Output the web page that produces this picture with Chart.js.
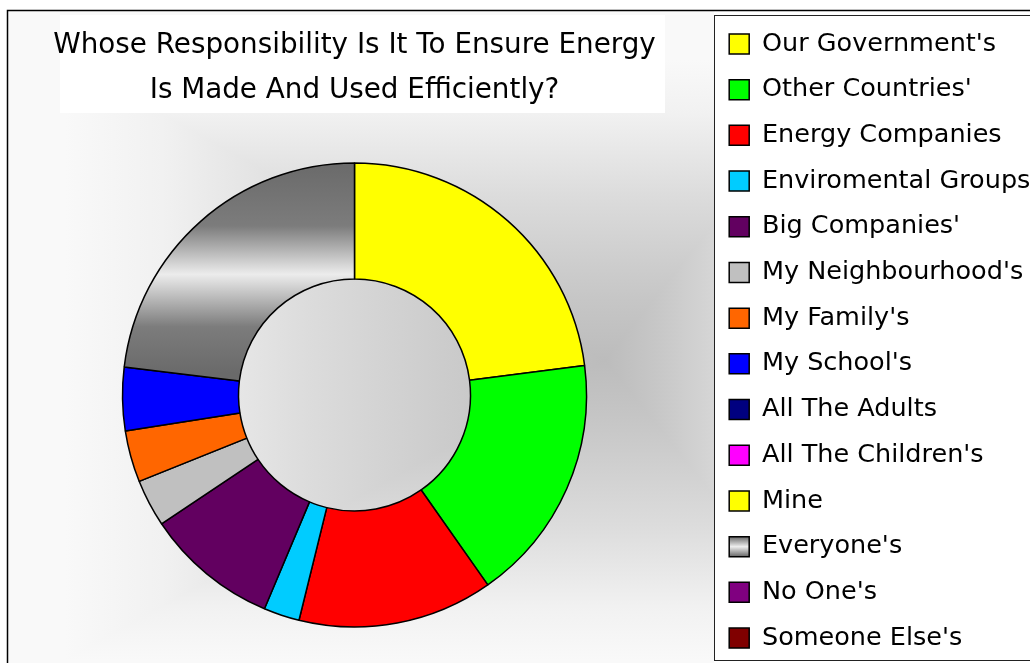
<!DOCTYPE html>
<html>
<head>
<meta charset="utf-8">
<title>Whose Responsibility</title>
<script src="https://cdn.jsdelivr.net/npm/chart.js@4.4.1/dist/chart.umd.min.js"></script>
<style>
  html, body { margin: 0; padding: 0; background: #fff; }
  #chartBox { width: 1030px; height: 663px; }
</style>
</head>
<body>
<div id="chartBox"><canvas id="responsibilityChart" width="1030" height="663"></canvas></div>
<script>
// chart data
const categories = [
  "Our Government's", "Other Countries'", "Energy Companies", "Enviromental Groups'",
  "Big Companies'", "My Neighbourhood's", "My Family's", "My School's",
  "All The Adults", "All The Children's", "Mine", "Everyone's", "No One's", "Someone Else's"
];
const shares = [23.0, 17.3, 13.6, 2.5, 9.3, 3.3, 3.6, 4.4, 0, 0, 0, 23.1, 0, 0];
const sliceColours = [
  '#ffff00', '#00ff00', '#ff0000', '#00ccff', '#620060', '#c0c0c0', '#ff6600',
  '#0000ff', '#000080', '#ff00ff', '#ffff00', '#808080', '#800080', '#800000'
];
const titleLines = ['Whose Responsibility Is It To Ensure Energy', 'Is Made And Used Efficiently?'];

const EVERYONE = 11;
const RADIUS = 232;
const PAD_TOP = 11;
const LABEL_PAD = 20.2;
const LABEL_SIZE = 25.5;
const BOX = 20;
const FONT = "'DejaVu Sans', sans-serif";

// grey metallic fill for the "Everyone's" slice
function sliceFill(context) {
  const i = context.dataIndex;
  if (i !== EVERYONE) return sliceColours[i];
  const chart = context.chart;
  const area = chart.chartArea;
  if (!area) return sliceColours[i];
  const top = (area.top + area.bottom) / 2 - RADIUS;
  const g = chart.ctx.createLinearGradient(0, top, 0, top + 210);
  g.addColorStop(0, '#6a6a6a');
  g.addColorStop(0.3, '#7c7c7c');
  g.addColorStop(0.53, '#ececec');
  g.addColorStop(0.78, '#7c7c7c');
  g.addColorStop(1, '#6a6a6a');
  return g;
}

function legendLabels(chart) {
  const items = Chart.overrides.doughnut.plugins.legend.labels.generateLabels(chart);
  items.forEach((item, i) => {
    item.strokeStyle = '#000';
    item.lineWidth = 1.5;
    if (i === EVERYONE) {
      const y = PAD_TOP + LABEL_PAD + i * (LABEL_SIZE + LABEL_PAD) + (LABEL_SIZE - BOX) / 2;
      const g = chart.ctx.createLinearGradient(0, y, 0, y + BOX);
      g.addColorStop(0, '#666');
      g.addColorStop(0.5, '#eee');
      g.addColorStop(1, '#666');
      item.fillStyle = g;
    }
  });
  return items;
}

// rectangular "from centre" grey shading behind the plot
function shadeBackground(ctx, w, h) {
  const cx = 605, cy = 360, kL = 1.8, kR = 0.8, D = 500, R = 300;
  const stops = [[0, '#bcbcbc'], [0.2, '#c6c6c6'], [0.3, '#cccccc'], [0.55, '#dcdcdc'], [0.82, '#f1f1f1'], [1, '#f9f9f9']];
  const grad = (x1, y1) => {
    const g = ctx.createLinearGradient(cx, cy, x1, y1);
    stops.forEach(([o, c]) => g.addColorStop(o, c));
    return g;
  };
  // top and bottom halves cover everything first, so no seams show
  ctx.fillStyle = grad(cx, cy - R);
  ctx.fillRect(0, 0, w, cy);
  ctx.fillStyle = grad(cx, cy + R);
  ctx.fillRect(0, cy, w, h - cy);
  // left and right wedges on top
  const tri = (a, b, fill) => {
    ctx.fillStyle = fill;
    ctx.beginPath();
    ctx.moveTo(cx, cy);
    ctx.lineTo(a[0], a[1]);
    ctx.lineTo(b[0], b[1]);
    ctx.closePath();
    ctx.fill();
  };
  tri([cx - kL * D, cy + D], [cx - kL * D, cy - D], grad(cx - kL * R, cy));
  tri([cx + kR * D, cy - D], [cx + kR * D, cy + D], grad(cx + kR * R, cy));
}

// background, title panel, legend frame, outer border
const backdrop = {
  id: 'backdrop',
  beforeDraw(chart) {
    const ctx = chart.ctx;
    ctx.save();
    ctx.fillStyle = '#fff';
    ctx.fillRect(0, 0, chart.width, chart.height);

    ctx.save();
    ctx.beginPath();
    ctx.rect(8, 10, 706, chart.height);
    ctx.clip();
    shadeBackground(ctx, chart.width, chart.height);
    ctx.restore();

    ctx.fillStyle = '#fff';
    ctx.fillRect(60, 15, 605, 98);

    ctx.fillStyle = '#fff';
    ctx.fillRect(714, 15, 400, 645);
    ctx.strokeStyle = '#222';
    ctx.lineWidth = 1;
    ctx.strokeRect(714.5, 15.5, 400, 645);

    ctx.strokeStyle = '#000';
    ctx.lineWidth = 1.5;
    ctx.beginPath();
    ctx.moveTo(7.5, chart.height + 5);
    ctx.lineTo(7.5, 10.5);
    ctx.lineTo(chart.width + 5, 10.5);
    ctx.stroke();
    ctx.restore();
  }
};

const ctxResp = document.getElementById('responsibilityChart');

new Chart(ctxResp, {
  type: 'doughnut',
  data: {
    labels: categories,
    datasets: [{
      data: shares,
      backgroundColor: sliceFill,
      borderColor: '#000',
      borderWidth: 1.5
    }]
  },
  options: {
    responsive: false,
    devicePixelRatio: 1,
    animation: false,
    radius: RADIUS,
    cutout: '50%',
    layout: {
      padding: { top: PAD_TOP, bottom: -10, left: 0, right: 0 }
    },
    plugins: {
      title: {
        display: true,
        text: titleLines,
        fullSize: false,
        color: '#000',
        font: { family: FONT, size: 27.8, weight: 'normal', lineHeight: '45px' },
        padding: { top: 12, bottom: 14 }
      },
      legend: {
        position: 'right',
        align: 'start',
        maxWidth: 321,
        labels: {
          color: '#000',
          font: { family: FONT, size: LABEL_SIZE },
          boxWidth: BOX,
          boxHeight: BOX,
          padding: LABEL_PAD,
          generateLabels: legendLabels
        }
      },
      tooltip: { enabled: false }
    }
  },
  plugins: [backdrop]
});
</script>
</body>
</html>
